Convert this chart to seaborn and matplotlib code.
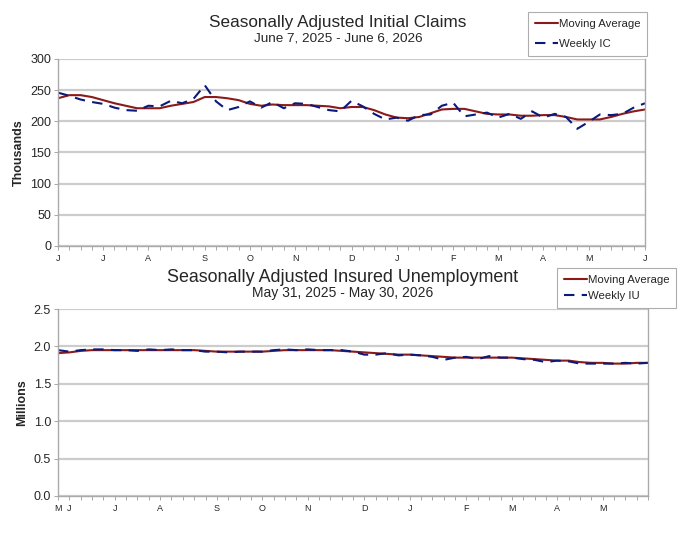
import numpy as np
import pandas as pd
import matplotlib
matplotlib.use("Agg")
import matplotlib.pyplot as plt
import seaborn as sns

# ---------------- data ----------------
ic_start = "2025-06-07"
ic_weekly = [246, 241, 235, 231, 228, 222, 218, 217, 225, 224, 233, 229, 236, 258,
             232, 218, 223, 232, 222, 231, 221, 229, 228, 223, 218, 216, 233, 224,
             212, 203, 206, 201, 210, 211, 225, 230, 208, 211, 214, 206, 212, 204,
             216, 206, 212, 207, 188, 199, 211, 210, 212, 222, 229]
ic_ma = [237, 242, 242, 239, 234, 229, 225, 221, 221, 221, 225, 228, 231, 239,
         239, 237, 234, 228, 225, 227, 226, 226, 226, 225, 224, 221, 223, 223,
         218, 211, 206, 205, 207, 213, 219, 220, 220, 216, 212, 211, 211, 209,
         209, 210, 210, 207, 203, 203, 203, 207, 212, 216, 219]

iu_start = "2025-05-31"
iu_weekly = [1.95, 1.93, 1.95, 1.96, 1.96, 1.95, 1.95, 1.94, 1.96, 1.95, 1.96, 1.95,
             1.95, 1.93, 1.93, 1.92, 1.93, 1.93, 1.93, 1.95, 1.96, 1.95, 1.96, 1.95,
             1.95, 1.95, 1.93, 1.89, 1.89, 1.91, 1.88, 1.89, 1.88, 1.86, 1.82, 1.85,
             1.86, 1.83, 1.87, 1.85, 1.85, 1.83, 1.82, 1.79, 1.81, 1.80, 1.77, 1.77,
             1.77, 1.77, 1.78, 1.77, 1.78]
iu_ma = [1.91, 1.92, 1.94, 1.95, 1.95, 1.95, 1.95, 1.95, 1.95, 1.95, 1.95, 1.95,
         1.95, 1.94, 1.93, 1.93, 1.93, 1.93, 1.93, 1.94, 1.95, 1.95, 1.95, 1.95,
         1.95, 1.94, 1.93, 1.92, 1.91, 1.90, 1.89, 1.89, 1.88, 1.87, 1.86, 1.85,
         1.85, 1.85, 1.85, 1.85, 1.85, 1.84, 1.83, 1.82, 1.81, 1.81, 1.79, 1.78,
         1.78, 1.77, 1.77, 1.78, 1.78]

ic_title = "Seasonally Adjusted Initial Claims"
ic_sub = "June 7, 2025 - June 6, 2026"
iu_title = "Seasonally Adjusted Insured Unemployment"
iu_sub = "May 31, 2025 - May 30, 2026"
ic_yticks = [0, 50, 100, 150, 200, 250, 300]
iu_yticks = [0.0, 0.5, 1.0, 1.5, 2.0, 2.5]

# ---------------- style ----------------
sns.set_style("white")
plt.rcParams["font.family"] = ["Liberation Sans", "DejaVu Sans"]

MA_COLOR = "#8B1A1A"
WK_COLOR = "#0A1A7A"
GRID = "#cccccc"

fig = plt.figure(figsize=(6.8, 5.4), dpi=100)


def draw(ax, start, weekly, ma, yticks, ylabel, ylim, fmt, wk_label,
         title, sub, tx, ty, tsize, ssize, leg_box, lspace, last_label=True):
    dates = pd.date_range(start, periods=len(weekly), freq="7D")
    df = pd.DataFrame({"date": dates, "weekly": weekly, "ma": ma})
    sns.lineplot(data=df, x="date", y="ma", ax=ax, color=MA_COLOR, lw=1.5,
                 label="Moving Average", legend=False)
    sns.lineplot(data=df, x="date", y="weekly", ax=ax, color=WK_COLOR, lw=1.5,
                 dashes=False, label=wk_label, legend=False)
    ax.lines[-1].set_linestyle((0, (5, 3.5)))
    ax.set_xlim(dates[0], dates[-1])
    ax.set_ylim(*ylim)
    ax.set_yticks(yticks)
    ax.set_yticklabels([fmt.format(v) for v in yticks], fontsize=9)
    ax.yaxis.grid(True, color=GRID, lw=1.6)
    ax.set_axisbelow(True)
    # month tick labels at first week of each month
    mpos, mlab = [], []
    prev = None
    for i, d in enumerate(dates):
        if d.month != prev:
            if last_label or i < len(dates) - 1:
                mpos.append(d)
                mlab.append(d.strftime("%B")[0])
        prev = d.month
    ax.set_xticks(dates, minor=True)
    ax.set_xticks(mpos)
    ax.set_xticklabels(mlab, fontsize=6.5)
    ax.tick_params(axis="x", which="both", length=3, width=0.6, color="#999999",
                   direction="out", bottom=True, pad=3)
    ax.tick_params(axis="y", length=3, width=0.6, color="#999999", left=True, pad=2)
    ax.set_xlabel("")
    ax.set_ylabel(ylabel, fontsize=9, fontweight="bold", labelpad=4)
    for s in ["left", "bottom", "right"]:
        ax.spines[s].set_color("#aaaaaa")
        ax.spines[s].set_linewidth(1.0)
    ax.spines["top"].set_visible(False)
    fig.text(tx, ty, title, ha="center", va="center", fontsize=tsize)
    fig.text(tx, ty - 0.030, sub, ha="center", va="center", fontsize=ssize)
    h, l = ax.get_legend_handles_labels()
    leg = fig.legend(h, l, loc="upper left", bbox_to_anchor=leg_box,
                     fontsize=8.2, frameon=True, fancybox=False, handlelength=2.0,
                     handletextpad=0.1, labelspacing=lspace, borderpad=0.6,
                     borderaxespad=0)
    leg.get_frame().set_edgecolor("#999999")
    leg.get_frame().set_linewidth(0.8)


ax1 = fig.add_axes([58 / 680, 1 - 246 / 540, 587 / 680, 187 / 540])
draw(ax1, ic_start, ic_weekly, ic_ma, ic_yticks, "Thousands", (0, 300), "{:d}",
     "Weekly IC", ic_title, ic_sub, 338 / 680, 1 - 22 / 540, 12.3, 9.7,
     (528 / 680, 1 - 12 / 540), 0.9)

ax2 = fig.add_axes([58 / 680, 1 - 496 / 540, 590 / 680, 187 / 540])
draw(ax2, iu_start, iu_weekly, iu_ma, iu_yticks, "Millions", (0, 2.5), "{:.1f}",
     "Weekly IU", iu_title, iu_sub, 343 / 680, 1 - 277 / 540, 12.9, 10,
     (557 / 680, 1 - 268 / 540), 0.55, last_label=False)

fig.savefig("out.png", dpi=100)
